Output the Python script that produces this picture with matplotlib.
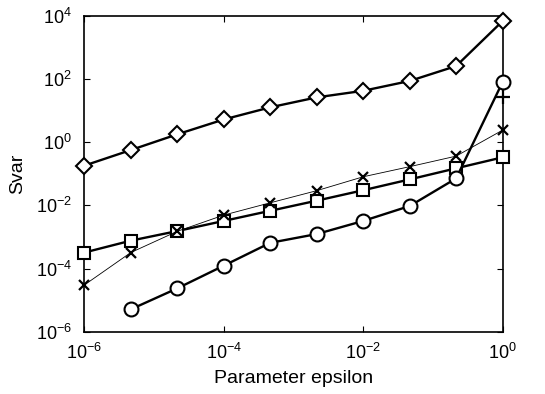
import matplotlib
matplotlib.use("Agg")
import matplotlib.pyplot as plt
from matplotlib.ticker import LogLocator, NullLocator

plt.rcParams['font.family'] = ['Liberation Sans', 'DejaVu Sans']
plt.rcParams['mathtext.fontset'] = 'custom'
plt.rcParams['mathtext.rm'] = 'Liberation Sans'
plt.rcParams['mathtext.it'] = 'Liberation Sans'

# epsilon values (log-spaced)
eps = [1e-6, 4.64e-6, 2.15e-5, 1e-4, 4.64e-4, 2.15e-3, 1e-2, 4.64e-2, 0.215, 1.0]

svar_diamond = [0.18, 0.56, 1.76, 5.2, 12.6, 26, 42, 86, 255, 6800]
svar_square = [3.2e-4, 7.6e-4, 1.53e-3, 3.2e-3, 6.7e-3, 0.014, 0.030, 0.066, 0.148, 0.33]
svar_cross = [3.0e-5, 3.2e-4, 1.5e-3, 4.9e-3, 0.012, 0.029, 0.080, 0.167, 0.36, 2.4]
eps_circle = eps[1:]
svar_circle = [5.1e-6, 2.35e-5, 1.23e-4, 6.5e-4, 1.23e-3, 3.2e-3, 9.5e-3, 0.071, 81]
eps_plus = [1.0]
svar_plus = [27]

fig = plt.figure(figsize=(5.45, 3.94), dpi=100)
ax = fig.add_axes([0.1547, 0.1581, 0.7677, 0.8021])

ax.plot(eps, svar_diamond, '-', color='k', lw=1.7, marker='D', ms=7.8,
        mfc='white', mec='k', mew=1.5, clip_on=False, zorder=3)
ax.plot(eps, svar_square, '-', color='k', lw=1.7, marker='s', ms=9,
        mfc='white', mec='k', mew=1.5, clip_on=False, zorder=3)
ax.plot(eps_circle, svar_circle, '-', color='k', lw=1.7, marker='o', ms=10,
        mfc='white', mec='k', mew=1.5, clip_on=False, zorder=3)
ax.plot(eps, svar_cross, '-', color='k', lw=0.6, marker='x', ms=6.8,
        mec='k', mew=1.6, clip_on=False, zorder=4)
ax.plot(eps_plus, svar_plus, 'none', marker='+', ms=10, mec='k', mew=1.6,
        clip_on=False, zorder=4)

ax.set_xscale('log')
ax.set_yscale('log')
ax.set_xlim(1e-6, 1)
ax.set_ylim(1e-6, 1e4)

ax.xaxis.set_major_locator(LogLocator(base=100))
ax.yaxis.set_major_locator(LogLocator(base=100))
ax.xaxis.set_minor_locator(NullLocator())
ax.yaxis.set_minor_locator(NullLocator())
ax.tick_params(direction='in', top=True, right=True, length=4, width=0.8,
               labelsize=13)
ax.tick_params(axis='x', pad=8)
ax.tick_params(axis='y', pad=9)
for s in ax.spines.values():
    s.set_linewidth(1.2)

ax.set_xlabel('Parameter epsilon', fontsize=14, labelpad=5)
ax.set_ylabel('Svar', fontsize=14)
ax.yaxis.set_label_coords(-0.138, 0.5)

fig.savefig('out.png', dpi=100)
